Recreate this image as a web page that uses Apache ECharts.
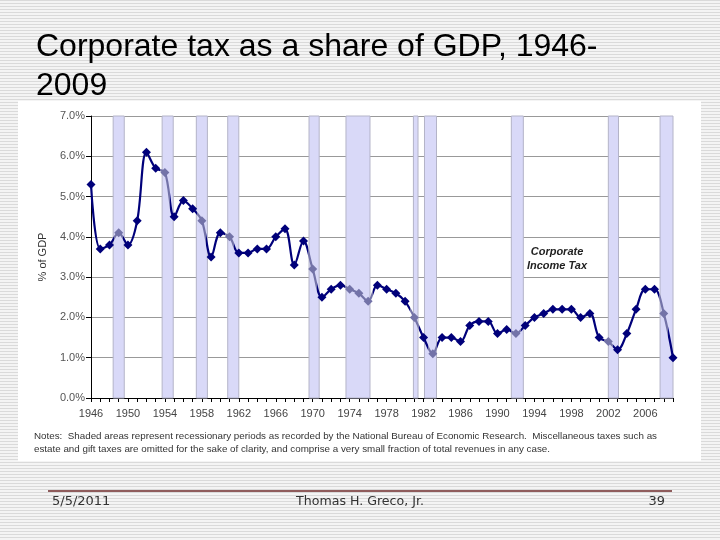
<!DOCTYPE html>
<html><head><meta charset="utf-8">
<script src="https://cdn.jsdelivr.net/npm/echarts@6/dist/echarts.min.js"></script>
<style>
html,body{margin:0;padding:0;}
body{width:720px;height:540px;background:repeating-linear-gradient(to bottom,#dadada 0px,#dadada 1px,#f4f4f4 1px,#f4f4f4 3px);}
#c{width:720px;height:540px;}
</style></head>
<body><div id="c"></div>
<script>
const years = [];
for (let y = 1946; y <= 2009; y++) years.push(y);
const taxShare = [5.3,3.7,3.8,4.1,3.8,4.4,6.1,5.7,5.6,4.5,4.9,4.7,4.4,3.5,4.1,4.0,3.6,3.6,3.7,3.7,
  4.0,4.2,3.3,3.9,3.2,2.5,2.7,2.8,2.7,2.6,2.4,2.8,2.7,2.6,2.4,2.0,1.5,1.1,1.5,1.5,
  1.4,1.8,1.9,1.9,1.6,1.7,1.6,1.8,2.0,2.1,2.2,2.2,2.2,2.0,2.1,1.5,1.4,1.2,1.6,2.2,
  2.7,2.7,2.1,1.0];
const recessions = [[1948.4,1949.6],[1953.7,1954.9],[1957.4,1958.6],[1960.8,1962.0],[1969.6,1970.7],
  [1973.6,1976.2],[1980.9,1981.4],[1982.1,1983.4],[1991.5,1992.8],[2002.0,2003.1],[2007.6,2009.0]];
const greyYears = [1949,1954,1958,1961,1970,1974,1975,1976,1981,1983,1992,2002,2008];
const yTicks = ['0.0%','1.0%','2.0%','3.0%','4.0%','5.0%','6.0%','7.0%'];
const xLabelYears = [1946,1950,1954,1958,1962,1966,1970,1974,1978,1982,1986,1990,1994,1998,2002,2006];

const NAVY = '#00007a', GREY = '#7373a8';
const chart = echarts.init(document.getElementById('c'), null, {renderer:'canvas'});
const data = years.map((y,i)=>[y, taxShare[i]]);
chart.setOption({
  backgroundColor: 'transparent',
  animation: false,
  grid: {left: 91, right: 47, top: 116, bottom: 142},
  xAxis: {
    type: 'value', min: 1946, max: 2009, interval: 1,
    axisLine: {lineStyle: {color: '#000', width: 1}},
    axisTick: {length: 4, lineStyle: {color: '#000'}},
    axisLabel: {margin: 10, color: '#444', fontSize: 11, fontFamily: 'Liberation Sans',
      formatter: v => xLabelYears.indexOf(v) >= 0 ? String(v) : ''},
    splitLine: {show: false}
  },
  yAxis: {
    type: 'value', min: 0, max: 7, interval: 1,
    name: '% of GDP', nameLocation: 'middle', nameGap: 43, nameRotate: 90,
    nameTextStyle: {color: '#333', fontSize: 11, fontFamily: 'Liberation Sans'},
    axisLine: {show: true, lineStyle: {color: '#000', width: 1}},
    axisTick: {show: true, length: 5, lineStyle: {color: '#000'}},
    axisLabel: {margin: 6, color: '#555', fontSize: 11, fontFamily: 'Liberation Sans',
      formatter: v => yTicks[Math.round(v)]},
    splitLine: {show: true, lineStyle: {color: '#999', width: 1}}
  },
  visualMap: {
    show: false, type: 'piecewise', dimension: 0, seriesIndex: 0,
    pieces: greyYears.map(y => ({gte: y - 0.5, lte: y + 0.5, color: GREY})),
    outOfRange: {color: NAVY}
  },
  series: [{
    type: 'line', data: data, smooth: 0.35,
    symbol: 'diamond', symbolSize: 9, showAllSymbol: true,
    lineStyle: {width: 2.2},
    z: 5,
    markArea: {
      silent: true,
      itemStyle: {color: '#d9d9f8', borderColor: '#b4b4c8', borderWidth: 1},
      data: recessions.map(r => [{xAxis: r[0]}, {xAxis: r[1]}])
    }
  }],
  graphic: [
    {type: 'rect', z: -10, shape: {x: 18, y: 101, width: 683, height: 360}, style: {fill: '#fff'}},
    {type: 'text', left: 36, top: 28, style: {text: 'Corporate tax as a share of GDP, 1946-\n2009', fill: '#000',
      font: '32px "Liberation Sans"', lineHeight: 39}},
    {type: 'text', x: 557, y: 252, style: {text: 'Corporate', fill: '#222', align: 'center', verticalAlign: 'middle',
      font: 'italic bold 11px "Liberation Sans"'}},
    {type: 'text', x: 557, y: 266, style: {text: 'Income Tax', fill: '#222', align: 'center', verticalAlign: 'middle',
      font: 'italic bold 11px "Liberation Sans"'}},
    {type: 'text', x: 34, y: 436, style: {text: 'Notes:  Shaded areas represent recessionary periods as recorded by the National Bureau of Economic Research.  Miscellaneous taxes such as',
      fill: '#333', verticalAlign: 'middle', font: '9.8px "Liberation Sans"'}},
    {type: 'text', x: 34, y: 449, style: {text: 'estate and gift taxes are omitted for the sake of clarity, and comprise a very small fraction of total revenues in any case.',
      fill: '#333', verticalAlign: 'middle', font: '9.8px "Liberation Sans"'}},
    {type: 'line', shape: {x1: 48, y1: 491, x2: 672, y2: 491}, style: {stroke: '#6e2a2a', lineWidth: 1.5}},
    {type: 'text', x: 52, y: 502, style: {text: '5/5/2011', fill: '#333', verticalAlign: 'middle', font: '13px "DejaVu Sans"'}},
    {type: 'text', x: 360, y: 502, style: {text: 'Thomas H. Greco, Jr.', fill: '#333', align: 'center', verticalAlign: 'middle', font: '12.6px "DejaVu Sans"'}},
    {type: 'text', x: 665, y: 502, style: {text: '39', fill: '#333', align: 'right', verticalAlign: 'middle', font: '13px "DejaVu Sans"'}}
  ]
});
</script></body></html>
